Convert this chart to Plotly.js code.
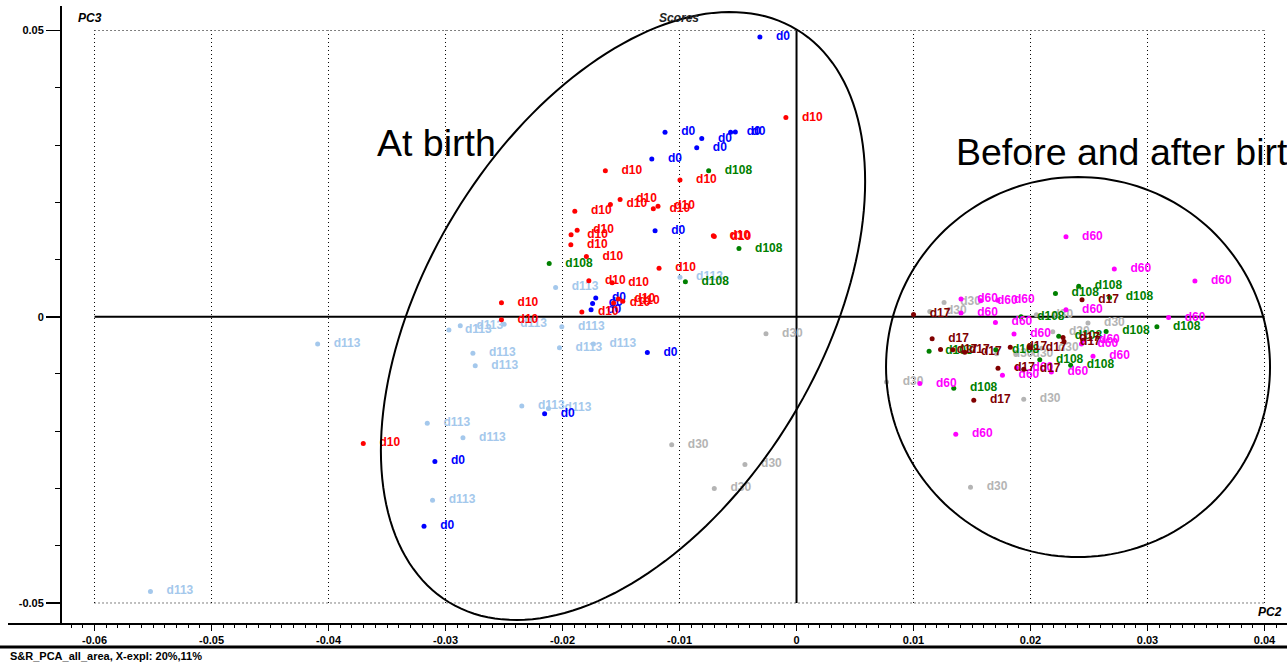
<!DOCTYPE html>
<html><head><meta charset="utf-8">
<script src="https://cdn.plot.ly/plotly-3.0.1.min.js"></script>
<style>html,body{margin:0;padding:0;background:#fff}#chart{width:1287px;height:664px}</style>
</head><body><div id="chart"></div>
<script>
// ---------- data (PC2 = x, PC3 = y) ----------
const groups = ["d113", "d30", "d108", "d60", "d17", "d0", "d10"];
const groupColors = ["#a4c8ec", "#b4b4b4", "#008000", "#ff00ff", "#800000", "#0000ff", "#ff0000"];

const d0_x = [-0.00313,-0.01124,-0.00810,-0.00853,-0.00563,-0.00523,-0.01237,-0.01209,-0.01716,-0.01743,-0.01756,-0.01275,-0.02153,-0.03091,-0.03184];
const d0_y = [0.04886,0.03222,0.03112,0.02954,0.03222,0.03228,0.02755,0.01501,0.00327,0.00233,0.00123,-0.00625,-0.01694,-0.02527,-0.03660];

const d10_x = [-0.00091,-0.01634,-0.00996,-0.01508,-0.01591,-0.01224,-0.01184,-0.01895,-0.01875,-0.01927,-0.00711,-0.00703,-0.01929,-0.01796,-0.01175,-0.01775,-0.01576,-0.01523,-0.01485,-0.01564,-0.01835,-0.02522,-0.02522,-0.03703];
const d10_y = [0.03480,0.02552,0.02387,0.02049,0.01961,0.01886,0.01932,0.01844,0.01511,0.01431,0.01413,0.01401,0.01256,0.01051,0.00846,0.00630,0.00595,0.00310,0.00271,0.00242,0.00082,0.00245,-0.00053,-0.02212];

const d108_x = [-0.00751,-0.00492,-0.02114,-0.00950,0.02412,0.02213,0.02676,0.01919,0.03080,0.02241,0.02646,0.01133,0.01703,0.02079,0.02343,0.01344];
const d108_y = [0.02552,0.01191,0.00928,0.00613,0.00531,0.00408,0.00338,0.00000,-0.00175,-0.00342,-0.00257,-0.00604,-0.00578,-0.00750,-0.00849,-0.01249];

const d113_x = [-0.00996,-0.02059,-0.02971,-0.02874,-0.02499,-0.02006,-0.04093,-0.02766,-0.02746,-0.02026,-0.01736,-0.02348,-0.02120,-0.03156,-0.02851,-0.03111,-0.05522];
const d113_y = [0.00688,0.00511,-0.00233,-0.00158,-0.00131,-0.00175,-0.00478,-0.00636,-0.00858,-0.00543,-0.00478,-0.01559,-0.01602,-0.01862,-0.02114,-0.03205,-0.04799];

const d30_x = [-0.00261,-0.01067,-0.00441,-0.00703,0.01261,0.01139,0.02050,0.02491,0.02190,0.01711,0.01880,0.02096,0.00769,0.01942,0.01487];
const d30_y = [-0.00298,-0.02236,-0.02580,-0.03000,0.00250,0.00093,0.00035,-0.00110,-0.00263,-0.00648,-0.00643,-0.00552,-0.01138,-0.01441,-0.02977];

const d60_x = [0.02303,0.02716,0.03405,0.01406,0.01575,0.01720,0.01406,0.01700,0.02303,0.03180,0.01859,0.02448,0.02435,0.02534,0.01760,0.01880,0.02178,0.01054,0.01361];
const d60_y = [0.01396,0.00835,0.00625,0.00310,0.00280,0.00289,0.00065,-0.00100,0.00123,-0.00014,-0.00303,-0.00412,-0.00478,-0.00688,-0.01021,-0.00893,-0.00963,-0.01168,-0.02054];

const d17_x = [0.01000,0.02440,0.01159,0.01231,0.01336,0.01438,0.01827,0.01993,0.02278,0.02286,0.01722,0.01942,0.01515];
const d17_y = [0.00040,0.00298,-0.00385,-0.00573,-0.00578,-0.00622,-0.00534,-0.00538,-0.00363,-0.00433,-0.00898,-0.00916,-0.01459];

const xTickVals = [-0.06,-0.05,-0.04,-0.03,-0.02,-0.01,0,0.01,0.02,0.03,0.04];
const xTickText = ["-0.06","-0.05","-0.04","-0.03","-0.02","-0.01","0","0.01","0.02","0.03","0.04"];
const yTickVals = [-0.05,0,0.05];
const yTickText = ["-0.05","0","0.05"];

const groupX = {d0:d0_x, d10:d10_x, d108:d108_x, d113:d113_x, d30:d30_x, d60:d60_x, d17:d17_x};
const groupY = {d0:d0_y, d10:d10_y, d108:d108_y, d113:d113_y, d30:d30_y, d60:d60_y, d17:d17_y};

// ---------- layout geometry ----------
const W = 1287, H = 664;
const M = {l:62, r:2, t:6, b:40};
const xRange = [-0.06278, 0.04175];
const yRange = [-0.05367, 0.05428];
const plotW = W - M.l - M.r, plotH = H - M.t - M.b;
const kx = plotW / (xRange[1]-xRange[0]);   // px per unit
const ky = plotH / (yRange[1]-yRange[0]);
const FONT = "Liberation Sans, Arial, Helvetica, sans-serif";

const traces = groups.map((g,i) => ({
  type: "scatter",
  mode: "markers+text",
  x: groupX[g], y: groupY[g],
  text: groupX[g].map(() => "\u2003" + g),
  textposition: "middle right",
  textfont: {family: FONT, size: 12, color: groupColors[i], weight: "bold"},
  marker: {size: 5, color: groupColors[i]},
  cliponaxis: false,
  hoverinfo: "skip",
  showlegend: false,
  name: g
}));

// ---------- shapes ----------
const shapes = [];
const gx0 = xTickVals[0], gx1 = xTickVals[xTickVals.length-1];
const gy0 = yTickVals[0], gy1 = yTickVals[yTickVals.length-1];
const dotLine = {color: "#000", width: 1, dash: "1px,3px"};
xTickVals.forEach(v => {
  if (v !== 0) shapes.push({type:"line", xref:"x", yref:"y", x0:v, x1:v, y0:gy0, y1:gy1, line:dotLine, layer:"below"});
});
[gy0, gy1].forEach(v => shapes.push({type:"line", xref:"x", yref:"y", x0:gx0, x1:gx1, y0:v, y1:v, line:dotLine, layer:"below"}));
// zero lines
shapes.push({type:"line", xref:"x", yref:"y", x0:0, x1:0, y0:gy0, y1:gy1, line:{color:"#000", width:2}, layer:"below"});
shapes.push({type:"line", xref:"x", yref:"y", x0:gx0, x1:gx1, y0:0, y1:0, line:{color:"#000", width:2}, layer:"below"});

function ellipsePath(cx, cy, aPx, bPx, angDeg) {
  const th = angDeg * Math.PI / 180, n = 180;
  let p = "";
  for (let i = 0; i <= n; i++) {
    const t = 2 * Math.PI * i / n;
    const dx = aPx*Math.cos(t)*Math.cos(th) - bPx*Math.sin(t)*Math.sin(th);
    const dy = aPx*Math.cos(t)*Math.sin(th) + bPx*Math.sin(t)*Math.cos(th);
    p += (i === 0 ? "M" : "L") + (cx + dx/kx).toFixed(6) + "," + (cy + dy/ky).toFixed(6);
  }
  return p + "Z";
}
shapes.push({type:"path", xref:"x", yref:"y", path: ellipsePath(-0.01483, 0.00013, 335, 197, 58.7), line:{color:"#000", width:2}});
shapes.push({type:"path", xref:"x", yref:"y", path: ellipsePath(0.02406, -0.00878, 192, 190, 0), line:{color:"#000", width:2}});

// bottom axis line (extends left of the plot) and thick rule above footer
const pxToPaperX = px => (px - M.l) / plotW;
const pxToPaperY = py => (H - M.b - py) / plotH;
shapes.push({type:"line", xref:"paper", yref:"paper", x0:pxToPaperX(8), x1:pxToPaperX(W), y0:0, y1:0, line:{color:"#000", width:2}});
shapes.push({type:"line", xref:"paper", yref:"paper", x0:pxToPaperX(0), x1:pxToPaperX(W), y0:pxToPaperY(647), y1:pxToPaperY(647), line:{color:"#000", width:3}});

// ---------- annotations ----------
const annotations = [
  {text:"At birth", xref:"x", yref:"y", x:(375-796.5)/kx, y:(316.75-143)/ky, xanchor:"left", yanchor:"middle", showarrow:false,
   font:{family:FONT, size:37.5, color:"#000"}},
  {text:"Before and after birth", xref:"x", yref:"y", x:(954-796.5)/kx, y:(316.75-152)/ky, xanchor:"left", yanchor:"middle", showarrow:false,
   font:{family:FONT, size:37.5, color:"#000"}},
  {text:"Scores", xref:"paper", yref:"paper", x:pxToPaperX(679), y:pxToPaperY(18), xanchor:"center", yanchor:"middle", showarrow:false,
   font:{family:FONT, size:12, color:"#222", style:"italic", weight:"bold"}},
  {text:"PC3", xref:"paper", yref:"paper", x:pxToPaperX(76), y:pxToPaperY(18), xanchor:"left", yanchor:"middle", showarrow:false,
   font:{family:FONT, size:12, color:"#000", style:"italic", weight:"bold"}},
  {text:"PC2", xref:"paper", yref:"paper", x:pxToPaperX(1284), y:pxToPaperY(612), xanchor:"right", yanchor:"middle", showarrow:false,
   font:{family:FONT, size:12, color:"#000", style:"italic", weight:"bold"}},
  {text:"S&amp;R_PCA_all_area, X-expl: 20%,11%", xref:"paper", yref:"paper", x:pxToPaperX(8), y:pxToPaperY(656), xanchor:"left", yanchor:"middle", showarrow:false,
   font:{family:FONT, size:11, color:"#000", weight:"bold"}}
];

const tickFont = {family:FONT, size:11, color:"#000", weight:"bold"};
const layout = {
  width: W, height: H, autosize: false,
  margin: M,
  paper_bgcolor: "#fff", plot_bgcolor: "#fff",
  showlegend: false,
  hovermode: false,
  xaxis: {
    range: xRange, tickmode: "array", tickvals: xTickVals, ticktext: xTickText,
    ticks: "outside", ticklen: 6, tickwidth: 1.5, tickcolor: "#000",
    showgrid: false, zeroline: false, showline: false,
    tickfont: tickFont, fixedrange: true,
    minor: {tickmode: "linear", tick0: 0, dtick: 0.001, ticks: "outside", ticklen: 3, tickwidth: 1, tickcolor: "#000", showgrid: false}
  },
  yaxis: {
    range: yRange, tickmode: "array", tickvals: yTickVals, ticktext: yTickText,
    ticks: "outside", ticklen: 14, tickwidth: 1.5, tickcolor: "#000",
    showgrid: false, zeroline: false, showline: true, linewidth: 2, linecolor: "#000",
    tickfont: tickFont, fixedrange: true,
    minor: {tickmode: "linear", tick0: 0, dtick: 0.01, ticks: "outside", ticklen: 5, tickwidth: 1, tickcolor: "#000", showgrid: false}
  },
  shapes: shapes,
  annotations: annotations
};

Plotly.newPlot("chart", traces, layout, {staticPlot: true, displayModeBar: false});
</script>
</body></html>
